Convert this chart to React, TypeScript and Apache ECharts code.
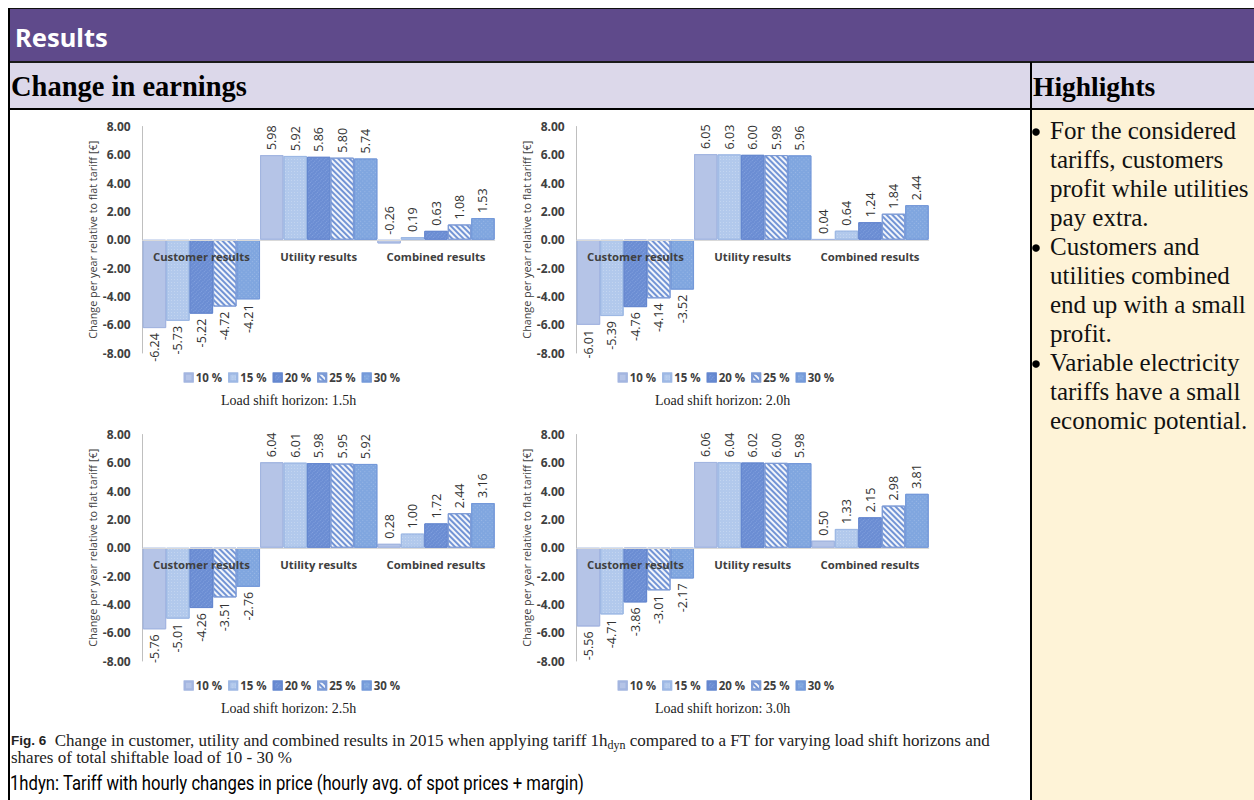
import React, { useEffect, useRef } from 'react';
import * as echarts from 'echarts';

const categories = ['Customer results', 'Utility results', 'Combined results'];
const shares = ['10 %', '15 %', '20 %', '25 %', '30 %'];
const horizonLabels = ['Load shift horizon: 1.5h', 'Load shift horizon: 2.0h', 'Load shift horizon: 2.5h', 'Load shift horizon: 3.0h'];
const yTicks = [-8, -6, -4, -2, 0, 2, 4, 6, 8];

// values per share (10,15,20,25,30 %)
const customer15 = [-6.24, -5.73, -5.22, -4.72, -4.21];
const utility15 = [5.98, 5.92, 5.86, 5.80, 5.74];
const combined15 = [-0.26, 0.19, 0.63, 1.08, 1.53];

const customer20 = [-6.01, -5.39, -4.76, -4.14, -3.52];
const utility20 = [6.05, 6.03, 6.00, 5.98, 5.96];
const combined20 = [0.04, 0.64, 1.24, 1.84, 2.44];

const customer25 = [-5.76, -5.01, -4.26, -3.51, -2.76];
const utility25 = [6.04, 6.01, 5.98, 5.95, 5.92];
const combined25 = [0.28, 1.00, 1.72, 2.44, 3.16];

const customer30 = [-5.56, -4.71, -3.86, -3.01, -2.17];
const utility30 = [6.06, 6.04, 6.02, 6.00, 5.98];
const combined30 = [0.50, 1.33, 2.15, 2.98, 3.81];

const panels = [
  [customer15, utility15, combined15],
  [customer20, utility20, combined20],
  [customer25, utility25, combined25],
  [customer30, utility30, combined30],
];

const highlightLines = [
  'For the considered', 'tariffs, customers', 'profit while utilities', 'pay extra.',
  'Customers and', 'utilities combined', 'end up with a small', 'profit.',
  'Variable electricity', 'tariffs have a small', 'economic potential.',
];
const bulletLineIdx = [0, 4, 8];

const shareStyles: any[] = [
  { color: '#B5C4E7', borderColor: '#A3B5E0', borderWidth: 1, decal: { symbol: 'none' } },
  { color: '#B2C9EC', borderColor: '#9DB8E4', borderWidth: 1, decal: { symbol: 'rect', symbolSize: 1, dashArrayX: [1, 2], dashArrayY: [1, 2], color: 'rgba(255,255,255,0.22)' } },
  { color: '#6B8DD3', borderColor: '#6587CF', borderWidth: 1, decal: { symbol: 'rect', symbolSize: 1, dashArrayX: [1, 1], dashArrayY: [1, 2], color: 'rgba(150,178,230,0.55)' } },
  { color: '#F2F5FB', borderColor: '#7D9BD6', borderWidth: 1, decal: { symbol: 'rect', symbolSize: 1, rotation: Math.PI / 4, dashArrayX: [[1, 0]], dashArrayY: [2, 2], color: '#7294D5' } },
  { color: '#80A6DF', borderColor: '#7499D9', borderWidth: 1, decal: { symbol: 'rect', symbolSize: 1, dashArrayX: [1, 2], dashArrayY: [1, 2], color: 'rgba(200,215,240,0.35)' } },
];

const GRID_W = 352;
const GRID_H = 226.5;
const colX = [142.7, 576.7];
const rowY = [126.5, 434.5];

export default function App() {
  const ref = useRef<HTMLDivElement>(null);
  useEffect(() => {
    if (!ref.current) return;
    const chart = echarts.init(ref.current, undefined, { renderer: 'svg' });

    const grids: any[] = [];
    const xAxes: any[] = [];
    const yAxes: any[] = [];
    const series: any[] = [];
    const legends: any[] = [];
    const graphics: any[] = [];

    panels.forEach((panel, p) => {
      const gx = colX[p % 2];
      const gy = rowY[Math.floor(p / 2)];
      grids.push({ left: gx, top: gy, width: GRID_W, height: GRID_H });
      xAxes.push({
        gridIndex: p, type: 'category', data: categories, z: 5,
        position: 'bottom', offset: -GRID_H / 2,
        axisLine: { show: true, onZero: false, lineStyle: { color: '#D9D9D9' } },
        axisTick: { show: false },
        axisLabel: { interval: 0, hideOverlap: false, fontFamily: 'Open Sans', fontWeight: 'bold', fontSize: 11.3, color: '#404040', margin: 11 },
      });
      yAxes.push({
        gridIndex: p, type: 'value', min: yTicks[0], max: yTicks[yTicks.length - 1], interval: 2,
        axisLine: { show: true, lineStyle: { color: '#BFBFBF' } },
        axisTick: { show: false },
        splitLine: { show: false },
        axisLabel: { fontFamily: 'Open Sans', fontWeight: 'bold', fontSize: 12, color: '#404040', margin: 12, formatter: (v: number) => v.toFixed(2) },
        name: 'Change per year relative to flat tariff [€]',
        nameLocation: 'middle', nameGap: 45,
        nameTextStyle: { fontFamily: 'Open Sans', fontSize: 10.8, color: '#404040' },
      });
      shares.forEach((s, si) => {
        series.push({
          type: 'bar', name: s, xAxisIndex: p, yAxisIndex: p,
          barGap: '0%', barCategoryGap: '0%',
          itemStyle: shareStyles[si],
          label: {
            show: true, rotate: 90, distance: 5, fontFamily: 'Open Sans', fontSize: 12.5, color: '#333',
            verticalAlign: 'middle', formatter: (d: any) => Number(d.value).toFixed(2),
          },
          data: panel.map((arr, ci) => {
            const v = arr[si];
            return { value: v, label: ci === 0 ? { position: 'bottom', align: 'right' } : { position: 'top', align: 'left' } };
          }),
        });
      });
      legends.push({
        data: shares, left: gx + 36, top: gy + 240, icon: 'rect', itemWidth: 8, itemHeight: 8, itemGap: 6,
        textStyle: { fontFamily: 'Open Sans', fontWeight: 'bold', fontSize: 11.5, color: '#404040', padding: [0, 0, 0, -2] },
        selectedMode: false,
      });
      graphics.push({
        type: 'text', x: gx + 146, y: gy + 273.5,
        style: { text: horizonLabels[p], fontFamily: 'Liberation Serif', fontSize: 14, fill: '#222', textAlign: 'center', textVerticalAlign: 'middle' },
      });
    });

    // page frame
    const frame: any[] = [
      { type: 'rect', shape: { x: 8, y: 8, width: 1246, height: 54 }, style: { fill: '#5F4A8B' }, z: -10 },
      { type: 'rect', shape: { x: 8, y: 62, width: 1246, height: 46 }, style: { fill: '#DCD8EA' }, z: -10 },
      { type: 'rect', shape: { x: 1031, y: 110, width: 223, height: 690 }, style: { fill: '#FEF3D7' }, z: -10 },
      { type: 'line', shape: { x1: 8, y1: 8.5, x2: 1254, y2: 8.5 }, style: { stroke: '#111', lineWidth: 1 } },
      { type: 'line', shape: { x1: 8, y1: 62, x2: 1254, y2: 62 }, style: { stroke: '#1a1a1a', lineWidth: 2 } },
      { type: 'line', shape: { x1: 8, y1: 109, x2: 1254, y2: 109 }, style: { stroke: '#000', lineWidth: 2 } },
      { type: 'line', shape: { x1: 9, y1: 8, x2: 9, y2: 800 }, style: { stroke: '#000', lineWidth: 2 } },
      { type: 'line', shape: { x1: 1031, y1: 62, x2: 1031, y2: 800 }, style: { stroke: '#000', lineWidth: 2 } },
      { type: 'text', x: 15, y: 37, style: { text: 'Results', fontFamily: 'Noto Sans', fontWeight: 'bold', fontSize: 25.5, fill: '#fff', textVerticalAlign: 'middle' } },
      { type: 'text', x: 11, y: 86, style: { text: 'Change in earnings', fontFamily: 'Liberation Serif', fontWeight: 'bold', fontSize: 28.5, fill: '#000', textVerticalAlign: 'middle' } },
      { type: 'text', x: 1033, y: 86, style: { text: 'Highlights', fontFamily: 'Liberation Serif', fontWeight: 'bold', fontSize: 27.5, fill: '#000', textVerticalAlign: 'middle' } },
      {
        type: 'text', x: 11, y: 740,
        style: {
          text: '{b|Fig. 6}  Change in customer, utility and combined results in 2015 when applying tariff 1h{s|dyn} compared to a FT for varying load shift horizons and',
          fontFamily: 'Liberation Serif', fontSize: 17, fill: '#222', textVerticalAlign: 'middle',
          rich: {
            b: { fontFamily: 'Liberation Sans', fontWeight: 'bold', fontSize: 13.5, fill: '#222' },
            s: { fontFamily: 'Liberation Serif', fontSize: 12, fill: '#222', padding: [9, 0, 0, 0] },
          },
        },
      },
      { type: 'text', x: 11, y: 757, style: { text: 'shares of total shiftable load of 10 - 30 %', fontFamily: 'Liberation Serif', fontSize: 17, fill: '#222', textVerticalAlign: 'middle' } },
      { type: 'text', x: 10, y: 783, scaleX: 0.834, style: { text: '1hdyn: Tariff with hourly changes in price (hourly avg. of spot prices + margin)', fontFamily: 'Roboto', fontSize: 20, fill: '#000', textVerticalAlign: 'middle' } },
    ];
    highlightLines.forEach((t, i) => {
      frame.push({ type: 'text', x: 1050, y: 130 + 29 * i, style: { text: t, fontFamily: 'Liberation Serif', fontSize: 25, fill: '#111', textVerticalAlign: 'middle' } });
    });
    bulletLineIdx.forEach((i) => {
      frame.push({ type: 'circle', shape: { cx: 1036, cy: 132 + 29 * i, r: 3.8 }, style: { fill: '#000' } });
    });

    chart.setOption({
      animation: false,
      aria: { enabled: true, decal: { show: true } },
      backgroundColor: '#fff',
      grid: grids,
      xAxis: xAxes,
      yAxis: yAxes,
      legend: legends,
      series,
      graphic: [...frame, ...graphics],
    });
    return () => chart.dispose();
  }, []);
  return <div ref={ref} style={{ position: 'absolute', left: 0, top: 0, width: 1254, height: 800 }} />;
}
